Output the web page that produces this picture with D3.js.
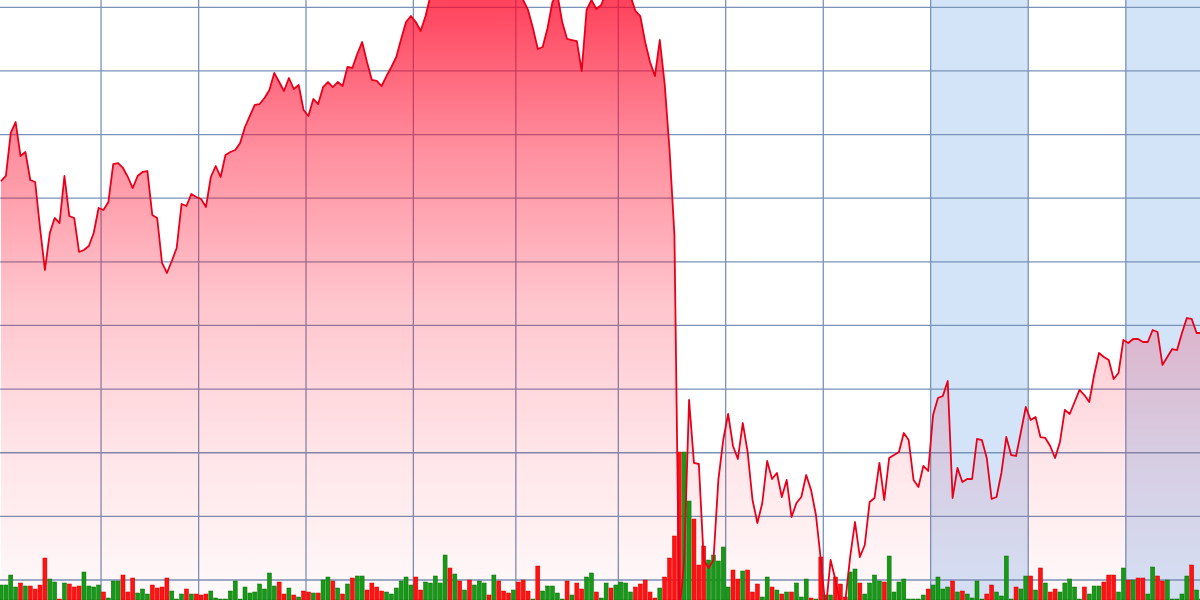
<!DOCTYPE html>
<html>
<head>
<meta charset="utf-8">
<title>Price and volume</title>
<style>
  html, body { margin: 0; padding: 0; background: #fff; }
  svg { display: block; }
</style>
</head>
<body>
<div id="chart"></div>

<script src="https://cdn.jsdelivr.net/npm/d3@7"></script>
<script>
// daily closing prices, one per trading day
var closes = [
  72.70, 73.49, 80.25, 81.97, 76.63, 77.26, 72.86, 72.55, 65.32, 58.72,
  64.53, 66.89, 66.10, 73.49, 67.20, 66.89, 61.55, 61.86, 62.49, 64.53,
  68.46, 68.15, 69.40, 75.37, 75.53, 74.75, 73.33, 71.60, 73.49, 74.12,
  74.27, 67.36, 66.89, 59.82, 58.25, 60.13, 62.17, 69.09, 68.77, 70.66,
  70.19, 69.87, 68.62, 73.33, 75.06, 73.33, 76.79, 77.26, 77.57, 78.67,
  81.19, 82.92, 84.65, 84.80, 85.75, 87.00, 89.68, 88.26, 86.85, 88.89,
  87.16, 87.79, 83.86, 82.92, 85.59, 84.80, 87.47, 88.26, 87.47, 88.26,
  87.63, 90.62, 90.46, 92.66, 94.55, 91.40, 88.58, 88.42, 87.63, 89.20,
  90.62, 92.19, 95.02, 97.69, 98.63, 97.69, 96.28, 98.63, 101.78, 103.03,
  103.98, 102.72, 104.60, 105.55, 104.29, 105.86, 107.12, 105.23, 106.18, 107.43,
  105.86, 104.60, 106.49, 105.55, 104.29, 105.23, 103.35, 101.15, 99.58, 96.75,
  93.45, 93.76, 96.75, 100.83, 102.09, 97.69, 95.02, 94.86, 94.70, 89.99,
  99.58, 101.15, 99.73, 100.36, 102.40, 103.35, 102.72, 103.66, 102.40, 101.78,
  99.42, 98.63, 94.55, 91.40, 89.20, 94.86, 87.95, 77.57, 64.22, 4.50,
  13.14, 38.29, 28.39, 28.23, 13.14, 11.89, 13.14, 25.72, 32.00, 36.09,
  31.06, 29.02, 34.67, 30.12, 22.57, 18.96, 22.10, 28.70, 25.87, 26.82,
  23.04, 25.72, 19.90, 22.10, 23.04, 26.50, 24.14, 20.21, 13.14, 5.29,
  13.14, 10.00, 6.07, 6.54, 13.61, 19.11, 13.61, 15.50, 22.26, 22.89,
  28.39, 22.57, 29.17, 29.64, 30.12, 33.10, 32.00, 25.72, 24.61, 27.92,
  27.13, 35.93, 38.60, 38.92, 41.27, 22.89, 27.60, 25.40, 25.87, 25.87,
  32.16, 32.00, 29.17, 22.73, 23.04, 26.82, 32.47, 29.64, 29.49, 33.26,
  37.19, 35.14, 35.62, 32.47, 32.32, 31.06, 29.17, 31.69, 36.72, 36.09,
  37.97, 39.86, 39.07, 37.97, 42.22, 45.67, 45.04, 44.57, 41.59, 42.53,
  47.72, 47.24, 47.87, 47.87, 47.40, 47.40, 49.29, 48.97, 43.79, 45.04,
  46.30, 46.14, 48.82, 51.17, 51.02, 48.82, 48.82
];

// daily volume (100k shares)
var volumes = [
  15, 15, 25, 13, 17, 14, 14, 11, 15, 42,
  21, 18, 1, 17, 16, 13, 14, 28, 14, 13,
  15, 8, 2, 19, 19, 25, 8, 22, 7, 11,
  6, 15, 12, 13, 22, 9, 1, 6, 11, 6,
  6, 5, 6, 9, 2, 1, 1, 9, 19, 1,
  13, 7, 8, 16, 11, 27, 14, 18, 6, 12,
  5, 3, 9, 8, 7, 7, 20, 23, 19, 12,
  6, 16, 22, 24, 24, 10, 17, 13, 9, 8,
  6, 12, 19, 23, 15, 23, 10, 18, 17, 24,
  17, 45, 32, 26, 19, 10, 20, 15, 19, 17,
  5, 25, 19, 9, 7, 10, 18, 20, 9, 1,
  34, 9, 14, 14, 7, 1, 19, 5, 17, 11,
  23, 27, 8, 2, 17, 12, 15, 18, 17, 8,
  13, 16, 20, 8, 2, 12, 23, 42, 64, 148,
  148, 99, 81, 35, 54, 40, 45, 39, 53, 13,
  30, 21, 29, 30, 8, 16, 3, 23, 13, 10,
  6, 8, 8, 17, 3, 21, 2, 1, 43, 5,
  5, 23, 16, 3, 28, 31, 17, 6, 17, 25,
  19, 18, 44, 8, 18, 21, 1, 1, 1, 5,
  11, 15, 23, 11, 13, 19, 8, 9, 6, 2,
  19, 1, 6, 15, 8, 4, 44, 1, 13, 11,
  24, 24, 10, 32, 17, 8, 11, 8, 17, 21,
  13, 1, 13, 6, 14, 14, 18, 25, 25, 8,
  32, 20, 20, 22, 22, 6, 33, 24, 19, 20,
  1, 1, 6, 24, 35, 10, 1
];

// 1 = up day (green bar), 0 = down day (red bar)
var volumeUp = [
  1, 1, 1, 1, 0, 1, 0, 0, 0, 0,
  1, 1, 0, 1, 0, 0, 0, 1, 1, 1,
  1, 0, 1, 1, 1, 0, 0, 0, 1, 1,
  1, 0, 0, 0, 0, 1, 1, 1, 0, 1,
  0, 0, 0, 1, 1, 1, 1, 1, 1, 1,
  1, 1, 1, 1, 1, 1, 1, 0, 0, 1,
  0, 1, 0, 0, 1, 0, 1, 1, 0, 1,
  0, 1, 0, 1, 1, 0, 0, 0, 0, 1,
  1, 1, 1, 1, 1, 0, 0, 1, 1, 1,
  1, 1, 0, 1, 0, 1, 0, 1, 1, 1,
  0, 1, 0, 0, 0, 1, 0, 0, 0, 1,
  0, 1, 1, 1, 1, 1, 0, 1, 0, 0,
  1, 1, 0, 1, 1, 0, 1, 1, 1, 1,
  0, 0, 0, 0, 0, 1, 0, 0, 0, 0,
  1, 1, 0, 0, 0, 1, 1, 1, 1, 1,
  0, 0, 1, 0, 0, 0, 1, 1, 0, 1,
  0, 1, 0, 1, 1, 1, 0, 1, 0, 1,
  1, 0, 0, 0, 1, 1, 0, 1, 1, 1,
  1, 0, 1, 1, 1, 1, 1, 1, 1, 1,
  0, 1, 1, 1, 1, 0, 1, 0, 1, 1,
  1, 1, 0, 0, 1, 1, 1, 1, 0, 1,
  1, 0, 1, 0, 1, 0, 0, 1, 1, 1,
  1, 1, 0, 1, 1, 1, 0, 0, 0, 1,
  1, 0, 1, 0, 0, 1, 1, 0, 0, 1,
  1, 1, 1, 1, 0, 1, 1
];

// index of the first trading day of each month
var monthStarts = [21, 41, 63, 85, 106, 127, 149, 169, 191, 211, 231];
// shaded months, [first day, end) as indices
var shadedMonths = [[191, 211], [231, 247]];
// price grid
var priceTicks = [10, 20, 30, 40, 50, 60, 70, 80, 90, 100];

var width = 1200, height = 600;

var svg = d3.select("#chart").append("svg")
    .attr("width", width)
    .attr("height", height);

var x = d3.scaleLinear().domain([0, 1]).range([1, 5.88]);
var y = d3.scaleLinear().domain([10, 100]).range([580, 7.3]);
var yVol = d3.scaleLinear().domain([0, 150]).range([600, 450]);

// fill gradient, fixed to the page so it fades with height
var grad = svg.append("defs").append("linearGradient")
    .attr("id", "fillGrad")
    .attr("gradientUnits", "userSpaceOnUse")
    .attr("x1", 0).attr("y1", 0).attr("x2", 0).attr("y2", height);
[[0, 0.74], [0.25, 0.44], [0.5, 0.23], [0.75, 0.105], [1, 0.02]].forEach(function(s) {
    grad.append("stop")
        .attr("offset", s[0])
        .attr("stop-color", "rgb(255,0,35)")
        .attr("stop-opacity", s[1]);
});

// shaded months
svg.append("g").selectAll("rect")
    .data(shadedMonths)
    .enter().append("rect")
        .attr("x", function(d) { return x(d[0] - 0.5); })
        .attr("y", 0)
        .attr("width", function(d) { return x(d[1] - 0.5) - x(d[0] - 0.5); })
        .attr("height", height)
        .attr("fill", "#d3e4f8");

// grid
var grid = svg.append("g")
    .attr("stroke", "#7892b8")
    .attr("stroke-width", 1.3);

grid.selectAll("line.h")
    .data(priceTicks)
    .enter().append("line")
        .attr("class", "h")
        .attr("x1", 0).attr("x2", width)
        .attr("y1", function(d) { return y(d); })
        .attr("y2", function(d) { return y(d); });

grid.selectAll("line.v")
    .data(monthStarts)
    .enter().append("line")
        .attr("class", "v")
        .attr("y1", 0).attr("y2", height)
        .attr("x1", function(d) { return x(d - 0.5); })
        .attr("x2", function(d) { return x(d - 0.5); });

// price area
var area = d3.area()
    .x(function(d, i) { return x(i); })
    .y0(height)
    .y1(function(d) { return y(d); });

svg.append("path")
    .datum(closes)
    .attr("d", area)
    .attr("fill", "url(#fillGrad)");

// volume bars
svg.append("g").selectAll("rect")
    .data(volumes)
    .enter().append("rect")
        .attr("x", function(d, i) { return x(i) - 2; })
        .attr("width", 4)
        .attr("y", function(d) { return yVol(d); })
        .attr("height", function(d) { return height - yVol(d); })
        .attr("fill", function(d, i) { return volumeUp[i] ? "#149a14" : "#ff1212"; })
        .attr("stroke", function(d, i) { return volumeUp[i] ? "#0b6e0b" : "#d40000"; })
        .attr("stroke-width", 0.5);

// price line
var line = d3.line()
    .x(function(d, i) { return x(i); })
    .y(function(d) { return y(d); });

svg.append("path")
    .datum(closes)
    .attr("d", line)
    .attr("fill", "none")
    .attr("stroke", "#e8001a")
    .attr("stroke-width", 1.8)
    .attr("stroke-linejoin", "round");
</script>
</body>
</html>
